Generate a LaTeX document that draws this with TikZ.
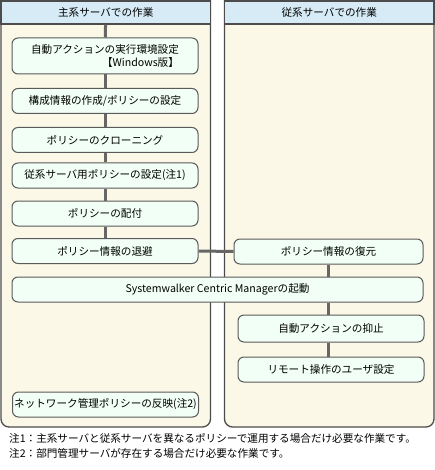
\documentclass[tikz,border=0pt]{standalone}
\usepackage{fontspec}
\setmainfont{Noto Sans CJK JP}
\usepackage{tikz}
\usetikzlibrary{positioning}
\definecolor{hdrblue}{HTML}{D6EBF6}
\definecolor{lanecream}{HTML}{FBF8E7}
\definecolor{boxmint}{HTML}{F1FFF6}
\definecolor{boxedge}{HTML}{5A5A5A}
\definecolor{flowgray}{HTML}{666666}

\begin{document}
\begin{tikzpicture}[
  x=1pt, y=-1pt,
  font=\fontsize{10.6}{13.5}\selectfont,
  lane/.style={draw=boxedge!85!black, line width=1.3pt, fill=lanecream},
  hdr/.style={draw=boxedge!85!black, line width=1.3pt, fill=hdrblue, minimum width=209.7pt, minimum height=23pt, inner sep=0pt},
  task/.style={draw=boxedge, line width=1pt, fill=boxmint, rounded corners=6pt, minimum width=186pt, minimum height=25pt, inner sep=0pt},
  flow/.style={flowgray, line width=3pt}
]
\useasboundingbox (0,0) rectangle (435,470);

% Lanes (square top, rounded bottom)
\draw[lane] (1,1) [rounded corners=8pt] -- (1,427) -- (210.5,427) [sharp corners] -- (210.5,1) -- cycle;
\draw[lane] (224.5,1) [rounded corners=8pt] -- (224.5,427) -- (434,427) [sharp corners] -- (434,1) -- cycle;
\node[hdr] (hdrmain) at (105.75, 12.5) {主系サーバでの作業};
\node[hdr] (hdrsub)  at (329.25, 12.5) {従系サーバでの作業};

% Main server tasks
\node[task, minimum height=36pt, align=right] (autoenv) at (105, 56)
  {自動アクションの実行環境設定\\【Windows版】};
\node[task] (config)  at (105, 101)   {構成情報の作成/ポリシーの設定};
\node[task] (clone)   at (105, 140)   {ポリシーのクローニング};
\node[task] (subpol)  at (105, 175.5) {従系サーバ用ポリシーの設定(注1)};
\node[task] (deliver) at (105, 213.5) {ポリシーの配付};
\node[task] (backup)  at (105, 251)   {ポリシー情報の退避};
\node[task] (netpol)  at (105.5, 404.5) {ネットワーク管理ポリシーの反映(注2)};

% Sub server tasks
\node[task, minimum width=189pt] (restore) at (328.5, 251.5) {ポリシー情報の復元};
\node[task, minimum width=411pt] (startscm) at (217.5, 289.5) {Systemwalker Centric Managerの起動};
\node[task, minimum height=27pt] (suppress) at (331, 328.5) {自動アクションの抑止};
\node[task] (remoteop) at (331, 369.5) {リモート操作のユーザ設定};

% Flow lines
\draw[flow] (hdrmain) -- (autoenv);
\draw[flow] (autoenv) -- (config);
\draw[flow] (config) -- (clone);
\draw[flow] (clone) -- (subpol);
\draw[flow] (subpol) -- (deliver);
\draw[flow] (deliver) -- (backup);
\draw[flow] (backup) -- (restore);
\draw[flow] (restore.south) -- (restore.south |- startscm.north);
\draw[flow] (restore.south |- startscm.south) -- (restore.south |- suppress.north);
\draw[flow] (restore.south |- suppress.south) -- (restore.south |- remoteop.north);

% Notes
\node[anchor=west, inner sep=0pt] (note1) at (9, 438.5)
  {注1：主系サーバと従系サーバを異なるポリシーで運用する場合だけ必要な作業です。};
\node[anchor=west, inner sep=0pt] (note2) at (9, 453.5)
  {注2：部門管理サーバが存在する場合だけ必要な作業です。};

\end{tikzpicture}
\end{document}
